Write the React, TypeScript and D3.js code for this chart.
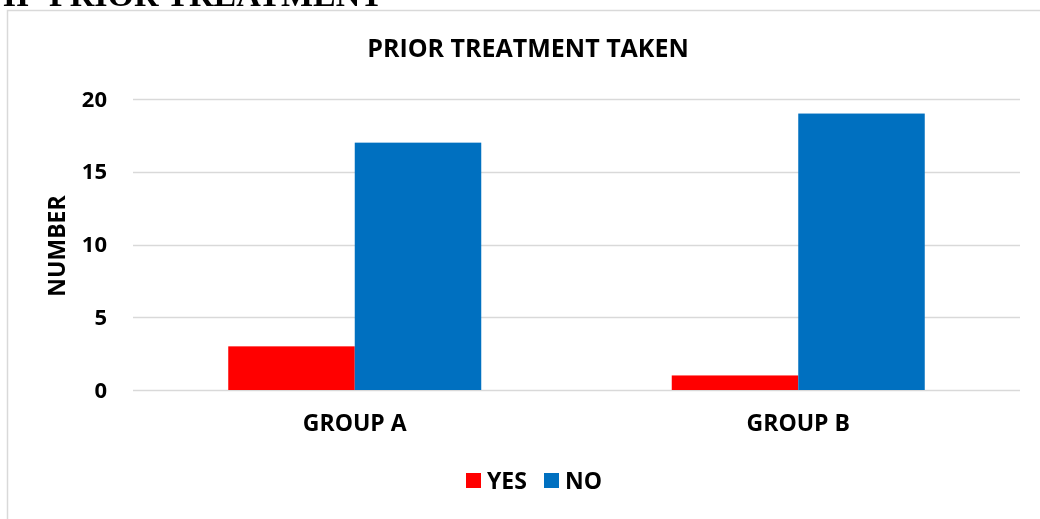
import React, { useRef, useEffect } from "react";
import * as d3 from "d3";

const GROUPS = ["GROUP A", "GROUP B"];
const SERIES = ["YES", "NO"];
const YES_VALUES = [3, 1];
const NO_VALUES = [17, 19];
const Y_TICKS = [0, 5, 10, 15, 20];
const COLORS = ["#FF0000", "#0070C0"];

const FONT = "'Open Sans', 'Liberation Sans', sans-serif";

export default function App() {
  const svgRef = useRef<SVGSVGElement>(null);
  const width = 1040;
  const height = 519;

  useEffect(() => {
    if (!svgRef.current) return;
    const svg = d3.select(svgRef.current);
    svg.selectAll("*").remove();

    svg.append("rect").attr("width", width).attr("height", height).attr("fill", "#fff");

    // heading of the page, cut off at the top
    svg
      .append("text")
      .attr("x", 383)
      .attr("y", 6)
      .attr("text-anchor", "end")
      .style("font-family", "'Liberation Serif', 'Times New Roman', serif")
      .style("font-weight", "bold")
      .style("font-size", "34px")
      .style("fill", "#000")
      .text("GRAPH II- PRIOR TREATMENT");

    // chart frame
    svg
      .append("rect")
      .attr("x", 7.5)
      .attr("y", 10.5)
      .attr("width", width + 20)
      .attr("height", height + 20)
      .attr("fill", "#fff")
      .attr("stroke", "#d9d9d9")
      .attr("stroke-width", 1.5);

    const left = 133;
    const right = 1020;
    const top = 99;
    const bottom = 390;

    const x0 = d3.scaleBand().domain(GROUPS).range([left, right]).paddingInner(0).paddingOuter(0);
    const y = d3.scaleLinear().domain([0, 20]).range([bottom, top]);
    const barW = 126.5;
    const x1 = d3
      .scaleBand()
      .domain(SERIES)
      .range([x0.bandwidth() / 2 - barW, x0.bandwidth() / 2 + barW]);

    // gridlines
    svg
      .append("g")
      .selectAll("line")
      .data(Y_TICKS)
      .join("line")
      .attr("x1", left)
      .attr("x2", right)
      .attr("y1", (d) => Math.round(y(d)) + 0.5)
      .attr("y2", (d) => Math.round(y(d)) + 0.5)
      .attr("stroke", "#d9d9d9")
      .attr("stroke-width", 1.3);

    // y tick labels
    svg
      .append("g")
      .selectAll("text")
      .data(Y_TICKS)
      .join("text")
      .attr("x", 107)
      .attr("y", (d) => y(d))
      .attr("dy", "0.35em")
      .attr("text-anchor", "end")
      .style("font-family", FONT)
      .style("font-weight", "bold")
      .style("font-size", "22px")
      .style("fill", "#000")
      .text((d) => String(d));

    // bars
    const rows = GROUPS.map((g, i) => ({ group: g, values: [YES_VALUES[i], NO_VALUES[i]] }));
    const groupsG = svg
      .append("g")
      .selectAll("g")
      .data(rows)
      .join("g")
      .attr("transform", (d) => `translate(${x0(d.group)},0)`);
    groupsG
      .selectAll("rect")
      .data((d) => d.values.map((v, i) => ({ key: SERIES[i], value: v, idx: i })))
      .join("rect")
      .attr("x", (d) => x1(d.key)!)
      .attr("width", x1.bandwidth())
      .attr("y", (d) => y(d.value))
      .attr("height", (d) => y(0) - y(d.value))
      .attr("fill", (d) => COLORS[d.idx]);

    // x labels
    svg
      .append("g")
      .selectAll("text")
      .data(GROUPS)
      .join("text")
      .attr("x", (d) => x0(d)! + x0.bandwidth() / 2)
      .attr("y", 431)
      .attr("text-anchor", "middle")
      .style("font-family", FONT)
      .style("font-weight", "bold")
      .style("font-size", "23px")
      .style("fill", "#000")
      .text((d) => d);

    // title
    svg
      .append("text")
      .attr("x", 528)
      .attr("y", 57)
      .attr("text-anchor", "middle")
      .style("font-family", FONT)
      .style("font-weight", "bold")
      .style("font-size", "25px")
      .style("fill", "#000")
      .text("PRIOR TREATMENT TAKEN");

    // y axis label
    svg
      .append("text")
      .attr("transform", "rotate(-90)")
      .attr("x", -246)
      .attr("y", 65)
      .attr("text-anchor", "middle")
      .style("font-family", FONT)
      .style("font-weight", "bold")
      .style("font-size", "23px")
      .style("fill", "#000")
      .text("NUMBER");

    // legend
    const legendX = [466, 544];
    const legend = svg
      .append("g")
      .selectAll("g")
      .data(SERIES)
      .join("g")
      .attr("transform", (_d, i) => `translate(${legendX[i]},473)`);
    legend
      .append("rect")
      .attr("width", 15)
      .attr("height", 15)
      .attr("fill", (_d, i) => COLORS[i]);
    legend
      .append("text")
      .attr("x", 21)
      .attr("y", 16)
      .style("font-family", FONT)
      .style("font-weight", "bold")
      .style("font-size", "23px")
      .style("fill", "#000")
      .text((d) => d);
  }, []);

  return (
    <svg
      ref={svgRef}
      width={width}
      height={height}
      style={{ position: "fixed", left: 0, top: 0, display: "block" }}
      viewBox={`0 0 ${width} ${height}`}
    />
  );
}
